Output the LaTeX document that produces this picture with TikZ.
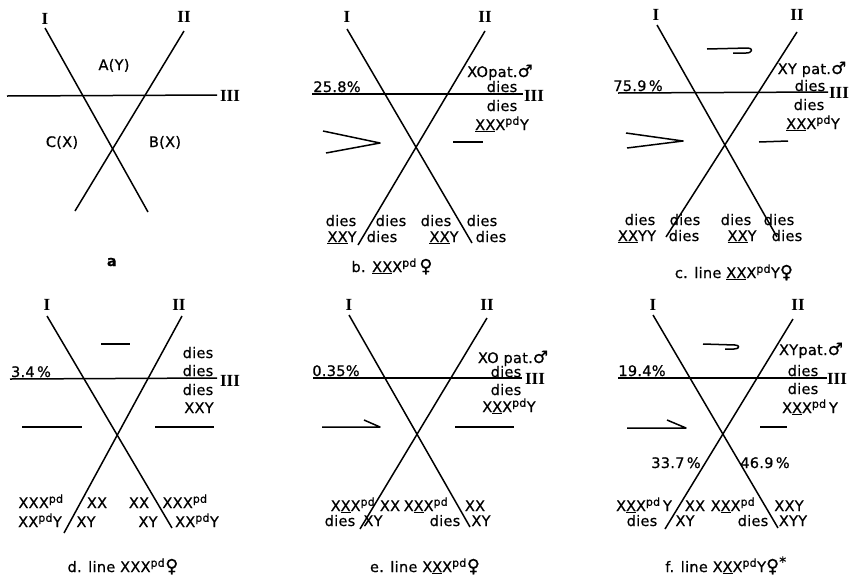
\documentclass[tikz,border=0pt]{standalone}
\usepackage{fontspec}
\setmainfont{DejaVu Sans}[LetterSpace=2, FakeBold=0.7]
\newfontfamily\symfont{DejaVu Sans}[FakeBold=0.7]
\newfontfamily\romfont{Liberation Serif}
\usetikzlibrary{positioning}
\newcommand{\pd}{\textsuperscript{\fontsize{11}{11}\selectfont pd}}
\newcommand{\fem}{{\symfont\fontsize{18}{18}\selectfont ♀}}
\newcommand{\mal}{{\symfont\fontsize{17}{17}\selectfont ♂}}

\begin{document}
\begin{tikzpicture}[x=1pt, y=-1pt,
  chrom/.style={line width=1.5pt},
  seg/.style={line width=1.5pt, line join=round},
  lab/.style={inner sep=0pt, anchor=base, yshift=-5pt, font=\fontsize{14.5}{15}\selectfont},
  rom/.style={inner sep=0pt, font=\romfont\bfseries\fontsize{17}{17}\selectfont}
]
  \useasboundingbox (0,0) rectangle (856,587);

  % --- a: scheme ---
  \node[rom] (aI)   at (45,19)  {I};
  \node[rom] (aII)  at (184,17) {II};
  \node[rom] (aIII) at (230,96) {III};
  \draw[chrom] (45,28) -- (148,212);
  \draw[chrom] (184,31) -- (75,211);
  \draw[chrom] (7,96) -- (217,95);
  \node[lab] (aA)   at (114,65)  {A(Y)};
  \node[lab] (aC)   at (62,142)  {C(X)};
  \node[lab] (aB)   at (165,142) {B(X)};
  \node[lab] (acap) at (112,261) {\textbf{a}};

  % --- b ---
  \node[rom] (bI)   at (347,17) {I};
  \node[rom] (bII)  at (485,17) {II};
  \node[rom] (bIII) at (534,96) {III};
  \draw[chrom] (347,29) -- (472,243);
  \draw[chrom] (485,31) -- (358,245);
  \draw[chrom] (312,94) -- (523,94);
  \draw[seg] (323,131) -- (380,143) -- (326,153);
  \draw[seg] (453,142) -- (483,142);
  \node[lab] (bpc) at (337,87)  {25.8\%};
  \node[lab] (br1) at (500,72)  {XOpat.\mal};
  \node[lab] (br2) at (502,87)  {dies};
  \node[lab] (br3) at (502,106) {dies};
  \node[lab] (br4) at (502,125) {\underline{XX}X\pd Y};
  \node[lab] (bl1) at (341,221) {dies};
  \node[lab] (bl2) at (342,237) {\underline{XX}Y};
  \node[lab] (bm1) at (391,221) {dies};
  \node[lab] (bm2) at (382,237) {dies};
  \node[lab] (bn1) at (436,221) {dies};
  \node[lab] (bn2) at (444,237) {\underline{XX}Y};
  \node[lab] (bk1) at (482,221) {dies};
  \node[lab] (bk2) at (491,237) {dies};
  \node[lab] (bcap) at (392,267) {b. \underline{XX}X\pd\,\fem};

  % --- c ---
  \node[rom] (cI)   at (656,15) {I};
  \node[rom] (cII)  at (797,15) {II};
  \node[rom] (cIII) at (839,93) {III};
  \draw[chrom] (657,25) -- (777,237);
  \draw[chrom] (797,32) -- (666,237);
  \draw[chrom] (618,93) -- (828,92);
  \draw[seg] (707,49) -- (748,48) .. controls (753,48) and (753,53) .. (746,53) -- (733,53);
  \draw[seg] (626,133) -- (683,141) -- (627,148);
  \draw[seg] (759,142) -- (788,141);
  \node[lab] (cpc) at (638,86)  {75.9\,\%};
  \node[lab] (cr1) at (812,69)  {XY pat.\mal};
  \node[lab] (cr2) at (810,86)  {dies};
  \node[lab] (cr3) at (809,105) {dies};
  \node[lab] (cr4) at (813,124) {\underline{XX}X\pd Y};
  \node[lab] (cl1) at (640,220) {dies};
  \node[lab] (cl2) at (637,236) {\underline{XX}YY};
  \node[lab] (cm1) at (685,220) {dies};
  \node[lab] (cm2) at (684,236) {dies};
  \node[lab] (cn1) at (736,220) {dies};
  \node[lab] (cn2) at (742,236) {\underline{XX}Y};
  \node[lab] (ck1) at (779,220) {dies};
  \node[lab] (ck2) at (787,236) {dies};
  \node[lab] (ccap) at (734,273) {c. line \underline{XX}X\pd Y\fem};

  % --- d ---
  \node[rom] (dI)   at (47,305)  {I};
  \node[rom] (dII)  at (179,305) {II};
  \node[rom] (dIII) at (230,381) {III};
  \draw[chrom] (47,316) -- (172,528);
  \draw[chrom] (182,316) -- (64,533);
  \draw[chrom] (10,379) -- (217,378);
  \draw[seg] (101,344) -- (130,344);
  \draw[seg] (22,427) -- (82,427);
  \draw[seg] (155,427) -- (214,427);
  \node[lab] (dpc) at (31,372)  {3.4\,\%};
  \node[lab] (dr1) at (198,353) {dies};
  \node[lab] (dr2) at (198,371) {dies};
  \node[lab] (dr3) at (198,390) {dies};
  \node[lab] (dr4) at (199,408) {XXY};
  \node[lab] (dl1) at (41,503)  {XXX\pd};
  \node[lab] (dl2) at (40,522)  {XX\pd Y};
  \node[lab] (dm1) at (97,503)  {XX};
  \node[lab] (dm2) at (86,522)  {XY};
  \node[lab] (dn1) at (139,503) {XX};
  \node[lab] (dn2) at (148,522) {XY};
  \node[lab] (dk1) at (185,503) {XXX\pd};
  \node[lab] (dk2) at (197,522) {XX\pd Y};
  \node[lab] (dcap) at (123,567) {d. line XXX\pd\fem};

  % --- e ---
  \node[rom] (eI)   at (349,305) {I};
  \node[rom] (eII)  at (487,305) {II};
  \node[rom] (eIII) at (535,379) {III};
  \draw[chrom] (349,315) -- (470,527);
  \draw[chrom] (487,318) -- (360,529);
  \draw[chrom] (313,378) -- (522,378);
  \draw[seg] (322,427) -- (380,427) -- (364,420);
  \draw[seg] (455,427) -- (514,427);
  \node[lab] (epc) at (336,371) {0.35\%};
  \node[lab] (er1) at (513,358) {XO pat.\mal};
  \node[lab] (er2) at (506,372) {dies};
  \node[lab] (er3) at (506,390) {dies};
  \node[lab] (er4) at (509,407) {X\underline{X}X\pd Y};
  \node[lab] (el1) at (353,506) {X\underline{X}X\pd};
  \node[lab] (el2) at (340,521) {dies};
  \node[lab] (em1) at (390,506) {XX};
  \node[lab] (em2) at (373,521) {XY};
  \node[lab] (en1) at (426,506) {X\underline{X}X\pd};
  \node[lab] (en2) at (445,521) {dies};
  \node[lab] (ek1) at (475,506) {XX};
  \node[lab] (ek2) at (481,521) {XY};
  \node[lab] (ecap) at (425,567) {e. line X\underline{X}X\pd\fem};

  % --- f ---
  \node[rom] (fI)   at (653,305) {I};
  \node[rom] (fII)  at (798,305) {II};
  \node[rom] (fIII) at (837,379) {III};
  \draw[chrom] (653,315) -- (778,528);
  \draw[chrom] (793,319) -- (665,529);
  \draw[chrom] (618,378) -- (827,378);
  \draw[seg] (703,344) -- (735,345) .. controls (740,345) and (740,349) .. (734,349) -- (725,349);
  \draw[seg] (627,428) -- (686,428) -- (667,420);
  \draw[seg] (760,427) -- (787,427);
  \node[lab] (fpc) at (642,371) {19.4\%};
  \node[lab] (fr1) at (811,350) {XYpat.\mal};
  \node[lab] (fr2) at (803,371) {dies};
  \node[lab] (fr3) at (803,389) {dies};
  \node[lab] (fr4) at (810,408) {X\underline{X}X\pd\,Y};
  \node[lab] (fpl) at (676,463) {33.7\,\%};
  \node[lab] (fpr) at (765,463) {46.9\,\%};
  \node[lab] (fl1) at (644,506) {X\underline{X}X\pd\,Y};
  \node[lab] (fl2) at (642,521) {dies};
  \node[lab] (fm1) at (695,506) {XX};
  \node[lab] (fm2) at (685,521) {XY};
  \node[lab] (fn1) at (733,506) {X\underline{X}X\pd};
  \node[lab] (fn2) at (753,521) {dies};
  \node[lab] (fk1) at (789,506) {XXY};
  \node[lab] (fk2) at (793,521) {XYY};
  \node[lab] (fcap) at (726,567) {f. line X\underline{X}X\pd Y\fem\textsuperscript{\fontsize{14}{14}\selectfont *}};
\end{tikzpicture}
\end{document}
